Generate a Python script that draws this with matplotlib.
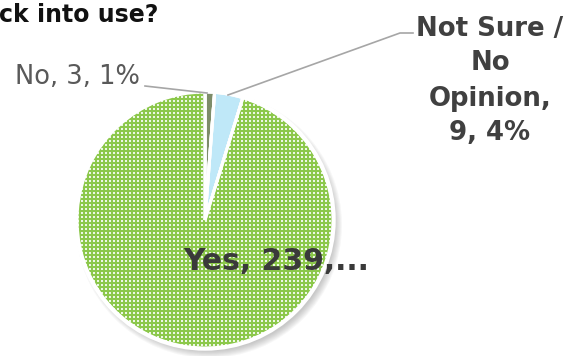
import numpy as np
import matplotlib.pyplot as plt
from matplotlib.patches import Circle, Wedge
from matplotlib.colors import to_rgb

# data
labels = ['No', 'Not Sure /\nNo\nOpinion', 'Yes']
counts = [3, 9, 239]
colors = ['#7d8c69', '#bfe8f8', '#8cc84b']

total = sum(counts)
pcts = [round(c * 100 / total) for c in counts]

W, H = 571, 356
fig = plt.figure(figsize=(W / 100, H / 100), dpi=100)
ax = fig.add_axes([0, 0, 1, 1])

cx, cy, r = 205, 136, 128

# soft shadow under the pie, towards bottom-right
for k in range(8):
    ax.add_patch(Circle((cx + 4, cy - 5), r + 5 - k, color='#505050', alpha=0.045, lw=0, zorder=0))

wedges, _ = ax.pie(counts, colors=colors, startangle=90, counterclock=False,
                   center=(cx, cy), radius=r,
                   wedgeprops=dict(edgecolor='white', linewidth=2.2))
for w in wedges:
    w.set_zorder(2)

# dotted texture on the big slice (green with small white squares)
n = 2 * r + 8
yy, xx = np.mgrid[0:n, 0:n]
white = (yy % 4 < 2) & (xx % 4 < 2)
tex = np.ones((n, n, 3))
tex[~white] = to_rgb(colors[2])
tex[white] = (0.93, 0.97, 0.9)
im = ax.imshow(tex, extent=(cx - n / 2, cx + n / 2, cy - n / 2, cy + n / 2),
               interpolation='nearest', zorder=2.5)
im.set_clip_path(wedges[2])
ax.add_patch(Circle((cx, cy), r + 1, fill=False, ec='white', lw=2.5, zorder=3))
# white slice borders over the texture
for w in wedges:
    ax.add_patch(Wedge(w.center, w.r, w.theta1, w.theta2, fill=False,
                       ec='white', lw=2.2, zorder=3))

ax.set_xlim(0, W)
ax.set_ylim(0, H)
ax.set_aspect('auto')
ax.axis('off')

# title (cut off on the left in the original)
ax.text(-1, 341, 'ck into use?', fontsize=17, fontweight='bold', color='#111111',
        ha='left', va='center')

# data labels
ax.text(77, 279, f'{labels[0]}, {counts[0]}, {pcts[0]}%', fontsize=18.5, color='#595959',
        ha='center', va='center')
ax.plot([145, 207], [270, 263], color='#a6a6a6', lw=1.2, zorder=4)

ax.text(490, 275, f'{labels[1]},\n{counts[1]}, {pcts[1]}%', fontsize=18.7, fontweight='bold',
        color='#404040', ha='center', va='center', multialignment='center', linespacing=1.45)
ax.plot([228, 400, 413], [261, 323, 323], color='#a6a6a6', lw=1.2, zorder=4)

ax.text(276, 94, f'{labels[2]}, {counts[2]},...', fontsize=21.5, fontweight='bold',
        color='#3a3a3a', ha='center', va='center', zorder=5)

fig.savefig('out.png', dpi=100)
